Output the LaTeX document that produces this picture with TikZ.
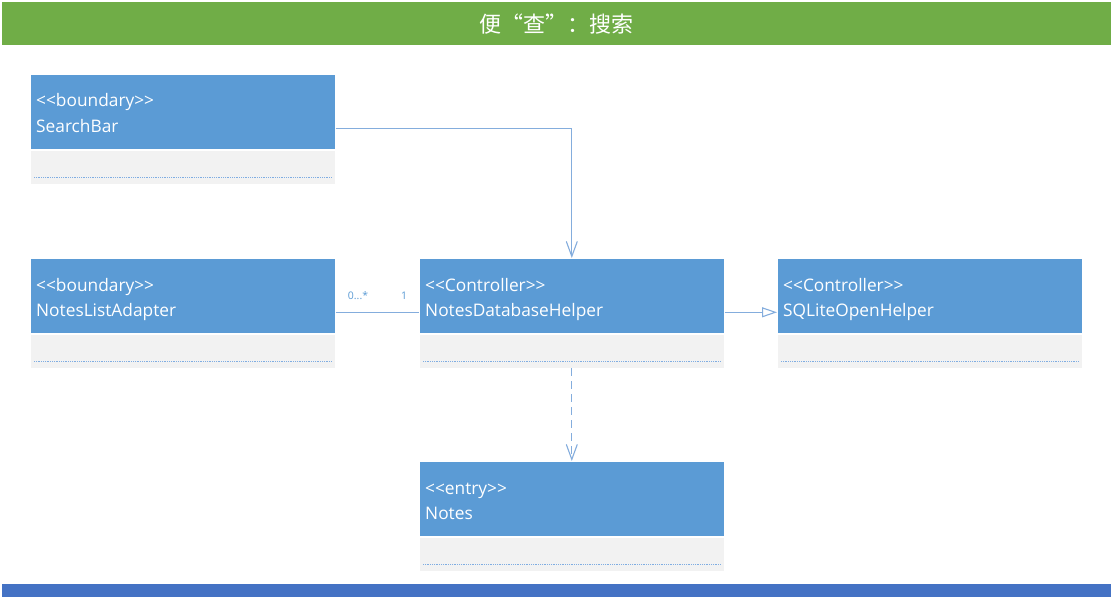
\documentclass[tikz,border=0pt]{standalone}
\usepackage{fontspec}
\setmainfont{Open Sans}
\newfontfamily\cjk{Noto Sans CJK SC}
\usetikzlibrary{arrows.meta,positioning}
\definecolor{titlegreen}{HTML}{70AD47}
\definecolor{boxblue}{HTML}{5B9BD5}
\definecolor{boxgrey}{HTML}{F2F2F2}
\definecolor{linkblue}{HTML}{84ADDD}
\definecolor{footblue}{HTML}{4472C4}
\definecolor{dotblue}{HTML}{7FADE2}
\tikzset{
  x=1pt,y=-1pt,
  head/.style={draw=white,line width=0.6pt,fill=boxblue,minimum width=305pt,minimum height=75pt,anchor=north west,inner sep=0pt},
  body/.style={draw=white,line width=0.6pt,fill=boxgrey,minimum width=305pt,minimum height=34pt,anchor=north,inner sep=0pt},
  lbl/.style={text=white,font=\fontsize{17.3}{20}\selectfont,anchor=base west,inner sep=0pt},
  link/.style={draw=linkblue,line width=1.1pt},
  mult/.style={text=boxblue,font=\fontsize{10.5}{12}\selectfont,inner sep=0pt,anchor=base},
}
\newcommand{\umlclass}[5]{% name, x, y, stereotype, title
  \node[head] (#1) at (#2,#3) {};
  \node[body] (#1b) at (#1.south) {};
  \node[lbl] (#1s) at ([xshift=6pt,yshift=-33pt]#1.north west) {<\kern0pt<#4>\kern0pt>};
  \node[lbl] (#1t) at ([xshift=6pt,yshift=-58pt]#1.north west) {#5};
  \draw[dotblue,line width=0.9pt,dash pattern=on 0.9pt off 0.9pt] ([xshift=4pt,yshift=7pt]#1b.south west) -- ([xshift=-4pt,yshift=7pt]#1b.south east);
}
\begin{document}
\begin{tikzpicture}
\useasboundingbox (0,0) rectangle (1113,599);
\fill[white] (0,0) rectangle (1113,599);
\node[fill=titlegreen,minimum width=1109pt,minimum height=43pt,anchor=north west,inner sep=0pt] (title) at (2,2) {};
\node[text=white,font=\cjk\fontsize{22}{26}\selectfont] (titletext) at (title.center) {便“查”：搜索};
\node[fill=footblue,minimum width=1109pt,minimum height=13pt,anchor=north west,inner sep=0pt] (foot) at (2,584) {};

\umlclass{search}{30}{74}{boundary}{SearchBar}
\umlclass{adapter}{30}{258}{boundary}{NotesListAdapter}
\umlclass{helper}{419}{258}{Controller}{NotesDatabaseHelper}
\umlclass{sqlite}{777}{258}{Controller}{SQLiteOpenHelper}
\umlclass{notes}{419}{461}{entry}{Notes}

\draw[link,-{Straight Barb[length=15pt,width=11pt]}] ([yshift=-16.5pt]search.east) -| (helper.north);
\draw[link] ([yshift=-16.5pt]adapter.east) -- ([yshift=-16.5pt]helper.west);
\node[mult] (m1) at (358,299) {0...*};
\node[mult] (m2) at (404,299) {1};
\draw[link,-{Triangle[open,length=15pt,width=10pt,fill=white]}] ([yshift=-16.5pt]helper.east) -- ([yshift=-16.5pt]sqlite.west);
\draw[link,dash pattern=on 8pt off 5pt,-{Straight Barb[length=15pt,width=11pt]}] (helperb.south) -- (notes.north);
\end{tikzpicture}
\end{document}
